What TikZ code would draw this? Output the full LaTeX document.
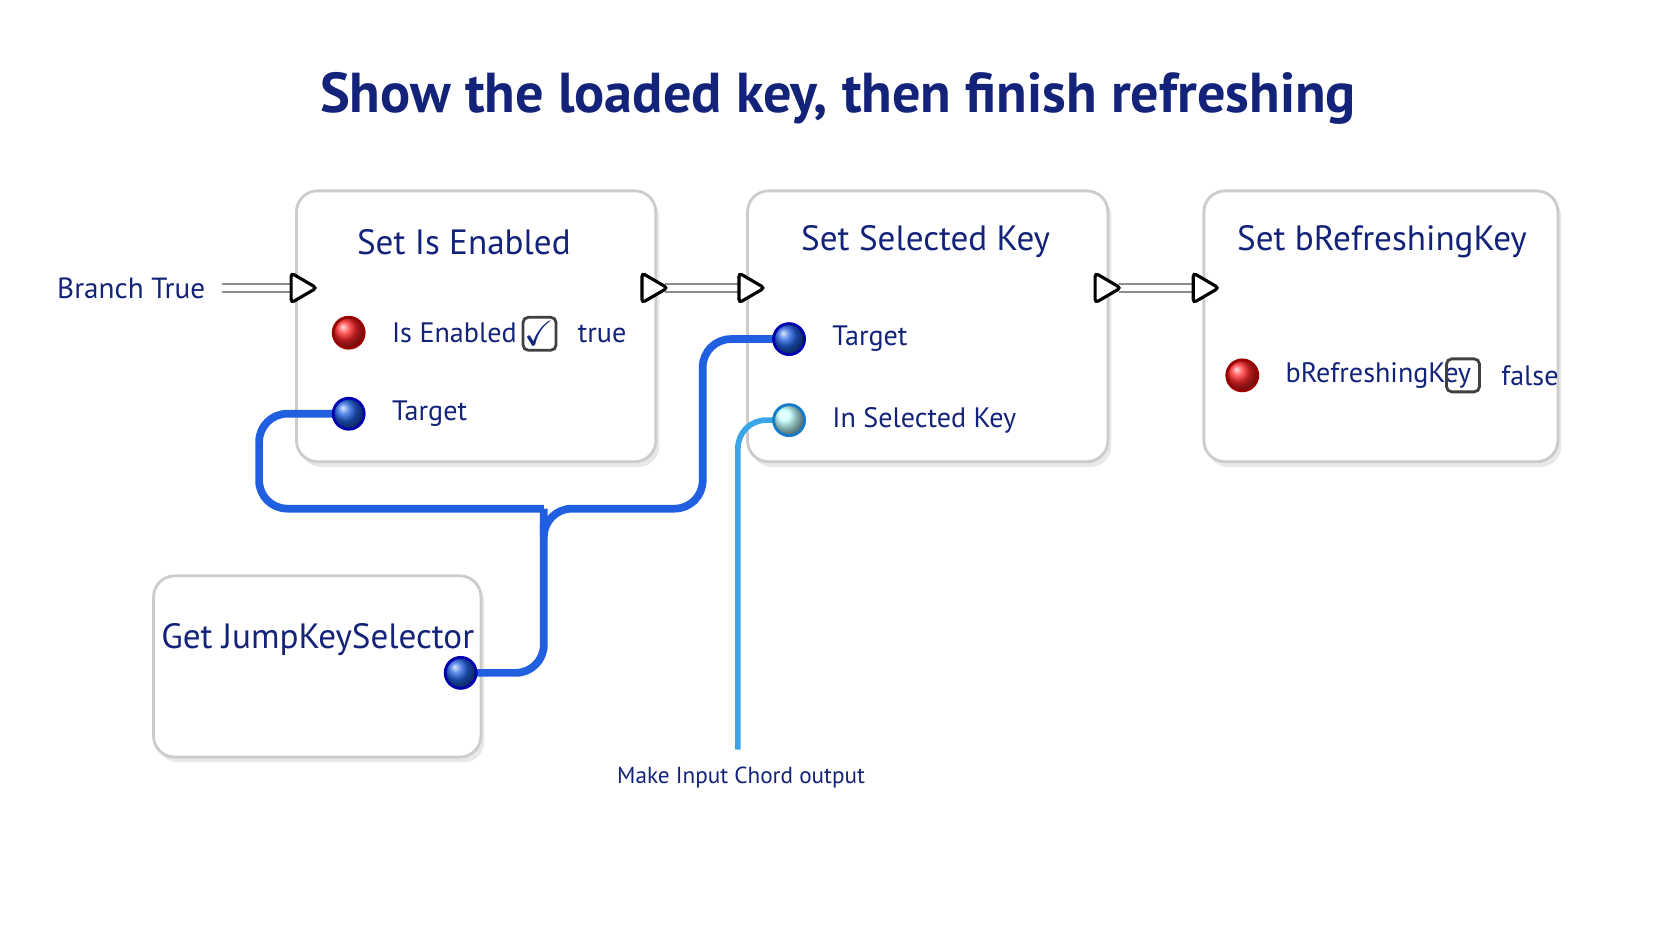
\documentclass[tikz,border=0pt]{standalone}
\usepackage{amssymb}
\usepackage{fontspec}
\setmainfont{PT Sans}
\usetikzlibrary{positioning,shadows,calc}
\definecolor{ink}{HTML}{14237A}
\definecolor{wireblue}{HTML}{1F5FE0}
\definecolor{lightwire}{HTML}{3AA6E8}
\tikzset{
  card/.style={draw=black!20, rounded corners=6pt, fill=white, line width=0.8pt,
    drop shadow={opacity=0.18, shadow xshift=1pt, shadow yshift=-1.5pt}},
  title/.style={text=ink, font=\fontsize{10}{12}\selectfont},
  pinlabel/.style={text=ink, font=\fontsize{8}{10}\selectfont, anchor=west},
  datapin/.style={circle, draw=blue!70!black, line width=0.8pt, inner sep=0pt, minimum size=0.31cm,
    ball color=#1},
  execpin/.style={draw=black, fill=white, line width=0.9pt, rounded corners=1pt},
  wire/.style={draw=wireblue, line width=2.2pt, rounded corners=8pt},
  execwire/.style={draw=black!45, double=white, double distance=1.6pt, line width=0.6pt},
  tick/.style={draw=black!75, rounded corners=1.5pt, line width=0.8pt, minimum size=0.33cm, inner sep=0pt}
}
\newcommand{\execarrow}[1]{\draw[execpin] ($(#1)+(-12,-14)$) -- ($(#1)+(12,0)$) -- ($(#1)+(-12,14)$) -- cycle;}
\begin{document}
\begin{tikzpicture}[x=0.01066cm, y=-0.01066cm]
\useasboundingbox (0,0) rectangle (1568,882);
\fill[white] (0,0) rectangle (1568,882);

% Heading
\node[text=ink, font=\fontsize{16}{19}\selectfont\bfseries] (head) at (786,92) {Show the loaded key, then finish refreshing};

% Cards
\draw[card] (278,179) rectangle (615,433);
\draw[card] (701,179) rectangle (1039,433);
\draw[card] (1129,179) rectangle (1461,433);
\draw[card] (144,540) rectangle (451,710);

\node[title] (t1) at (435,227) {Set Is Enabled};
\node[title] (t2) at (868,227) {Set Selected Key};
\node[title] (t3) at (1296,227) {Set bRefreshingKey};
\node[title] (t4) at (298,600) {Get JumpKeySelector};

% Exec pins
\coordinate (x1in) at (285,270);
\coordinate (x1out) at (614,270);
\coordinate (x2in) at (705,270);
\coordinate (x2out) at (1039,270);
\coordinate (x3in) at (1131,270);
\node[text=ink, font=\fontsize{8.3}{10}\selectfont] (branch) at (123,270) {Branch True};
\coordinate (bstart) at (208,270);

% Wires
\draw[execwire] (bstart) -- ($(x1in)+(-10,0)$);
\draw[execwire] ($(x1out)+(10,0)$) -- ($(x2in)+(-10,0)$);
\draw[execwire] ($(x2out)+(10,0)$) -- ($(x3in)+(-10,0)$);

\coordinate (split) at (510,477);
\coordinate (chord) at (692,703);
\draw[wire] (432,631) -- (510,631) -- (split);
\draw[wire] (split) -- (243,477) -- (243,388) -- (327,388);
\draw[wire] (510,490) -- (510,477) -- (659,477) -- (659,318) -- (740,318);
\draw[wire, draw=lightwire, line width=1.6pt] (740,394) -- (692,394) -- (chord);

\execarrow{x1in}
\execarrow{x1out}
\execarrow{x2in}
\execarrow{x2out}
\execarrow{x3in}

% Data pins
\node[datapin=red!85, draw=red!60!black] (p1) at (327,312) {};
\node[pinlabel, right=0.14cm of p1] (l1) {Is Enabled};
\node[tick] (c1) at (506,313) {\color{ink}$\checkmark$};
\node[pinlabel, right=0.08cm of c1] (v1) {true};
\node[datapin=wireblue] (p2) at (327,388) {};
\node[pinlabel, right=0.14cm of p2] (l2) {Target};

\node[datapin=wireblue] (p3) at (740,318) {};
\node[pinlabel, right=0.14cm of p3] (l3) {Target};
\node[datapin=cyan!25, draw=cyan!60!blue] (p4) at (740,394) {};
\node[pinlabel, right=0.14cm of p4] (l4) {In Selected Key};

\node[datapin=red!85, draw=red!60!black] (p5) at (1165,352) {};
\node[pinlabel, right=0.14cm of p5] (l5) {bRefreshingKey};
\node[tick] (c5) at (1372,352) {};
\node[pinlabel, right=0.08cm of c5] (v5) {false};

\node[datapin=wireblue] (p6) at (432,631) {};

\node[text=ink, font=\fontsize{6.6}{8}\selectfont, anchor=north] (chordlbl) at (695,708) {Make Input Chord output};
\end{tikzpicture}
\end{document}
